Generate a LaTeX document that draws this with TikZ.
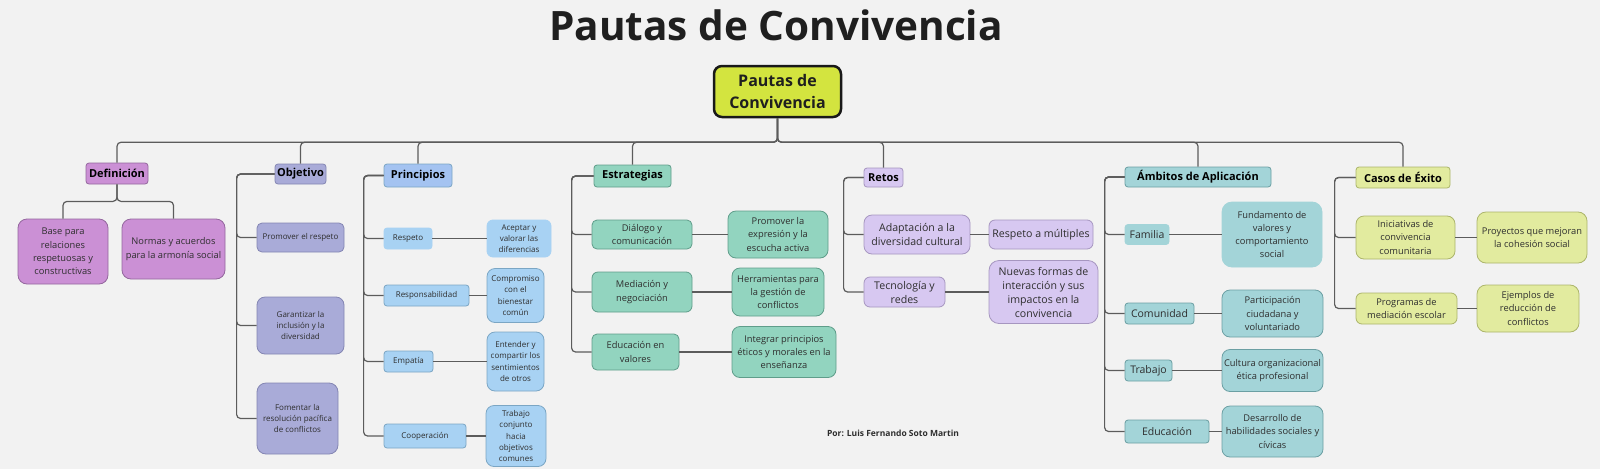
\documentclass[tikz,border=0pt]{standalone}
\usepackage{fontspec}
\setmainfont{Open Sans}
\newcommand\fsz[2]{\fontsize{#1}{#2}\selectfont}
\definecolor{bgc}{HTML}{F2F2F2}
\definecolor{linkc}{HTML}{5C5C5C}
\definecolor{ink}{HTML}{2E2E2E}
\definecolor{rootF}{HTML}{D3E43F}
\definecolor{defF}{HTML}{CB90D5}\definecolor{defD}{HTML}{94679E}
\definecolor{objF}{HTML}{A9ABD8}\definecolor{objD}{HTML}{8486B3}
\definecolor{prinH}{HTML}{A4C3F1}\definecolor{prinF}{HTML}{A8D2F3}\definecolor{prinD}{HTML}{7BA6C4}
\definecolor{estF}{HTML}{92D4BF}\definecolor{estD}{HTML}{5F9D8A}
\definecolor{retF}{HTML}{D7C8F1}\definecolor{retD}{HTML}{A696C0}
\definecolor{ambF}{HTML}{A3D4D8}\definecolor{ambD}{HTML}{6B9FA3}
\definecolor{casF}{HTML}{E2EB9F}\definecolor{casD}{HTML}{ACB56B}
\tikzset{
  box/.style={rounded corners=6pt,draw,line width=0.8pt,align=center,inner sep=0pt,
    text=ink,font=\fsz{9.3}{13.3}},
  small/.style={box,font=\fsz{8}{11.3}},
  big/.style={box,font=\fsz{10.6}{14}},
  head/.style={box,rounded corners=3pt,text=black,font=\bfseries\fsz{11}{13}},
  link/.style={draw=linkc,line width=1.2pt,rounded corners=4pt},
}
\begin{document}
\begin{tikzpicture}[x=1pt,y=-1pt]
        %% Canvas
        \fill[bgc] (0,0) rectangle (1600,469);
        \useasboundingbox (0,0) rectangle (1600,469);
        \node[font=\bfseries\fsz{40.5}{44},text=black!88] (title) at (776,25) {Pautas de Convivencia};
        \node[font=\bfseries\fsz{8.5}{10},text=ink] (author) at (893,433) {Por: Luis Fernando Soto Martin};
        %% Root
        \node[box,rounded corners=8pt,line width=2.5pt,draw=black!90,fill=rootF,text=black!88,
            minimum width=127,minimum height=51,font=\bfseries\fsz{16}{21.5}] (root) at (777.5,91.5)
            {Pautas de\\Convivencia};
        %% Categories
        \node[head,fill=defF,draw=defD,minimum width=62,minimum height=21] (def) at (117,173.5) {Definición};
        \node[head,fill=objF,draw=objD,minimum width=51,minimum height=20] (obj) at (300.5,174) {Objetivo};
        \node[head,fill=prinH,draw=prinD,minimum width=68,minimum height=23] (prin) at (418,175.5) {Principios};
        \node[head,fill=estF,draw=estD,minimum width=77,minimum height=22] (estr) at (632.5,176) {Estrategias};
        \node[head,fill=retF,draw=retD,minimum width=39,minimum height=19] (ret) at (883.5,177.5) {Retos};
        \node[head,fill=ambF,draw=ambD,minimum width=146,minimum height=20] (amb) at (1198,177) {Ámbitos de Aplicación};
        \node[head,fill=casF,draw=casD,minimum width=94,minimum height=21] (cas) at (1403,177.5) {Casos de Éxito};
        \foreach \c in {def,obj,prin,estr,ret,amb,cas}
            \draw[link] (root.south) -- ++(0,24) -| (\c.north);
        %% Definicion
        \node[box,rounded corners=9pt,fill=defF,draw=defD,minimum width=90,minimum height=65] (base) at (63,251.5)
            {Base para\\relaciones\\respetuosas y\\constructivas};
        \node[box,rounded corners=9pt,fill=defF,draw=defD,minimum width=103,minimum height=60] (norm) at (173.5,249)
            {Normas y acuerdos\\para la armonía social};
        \foreach \c in {base,norm}
            \draw[link] (def.south) -- ++(0,17) -| (\c.north);
        %% Objetivo
        \node[small,rounded corners=5pt,fill=objF,draw=objD,minimum width=87,minimum height=29] (prom) at (300.5,237.5)
            {Promover el respeto};
        \node[small,rounded corners=8pt,fill=objF,draw=objD,minimum width=87,minimum height=57] (gar) at (300.5,325.5)
            {Garantizar la\\inclusión y la\\diversidad};
        \node[small,rounded corners=9pt,fill=objF,draw=objD,minimum width=81,minimum height=71] (fom) at (297.5,418.5)
            {Fomentar la\\resolución pacífica\\de conflictos};
        \foreach \c in {prom,gar,fom}
            \draw[link] (obj.west) -| ([xshift=-20pt]\c.west) -- (\c.west);
        %% Principios
        \node[small,rounded corners=3pt,fill=prinF,draw=prinF,minimum width=48,minimum height=21] (resp) at (408,238.5) {Respeto};
        \node[small,rounded corners=3pt,fill=prinF,draw=prinD,minimum width=85,minimum height=21] (resb) at (426.5,295.5) {Responsabilidad};
        \node[small,rounded corners=3pt,fill=prinF,draw=prinD,minimum width=49,minimum height=21] (empa) at (408.5,361.5) {Empatía};
        \node[small,rounded corners=3pt,fill=prinF,draw=prinD,minimum width=82,minimum height=24] (coop) at (425,436) {Cooperación};
        \node[small,fill=prinF,draw=prinF,minimum width=64,minimum height=37] (acep) at (519,238.5)
            {Aceptar y\\valorar las\\diferencias};
        \node[small,rounded corners=8pt,fill=prinF,draw=prinD,minimum width=57,minimum height=54] (comp) at (515.5,295.5)
            {Compromiso\\con el\\bienestar\\común};
        \node[small,rounded corners=8pt,fill=prinF,draw=prinD,minimum width=57,minimum height=59] (ente) at (515.5,361.5)
            {Entender y\\compartir los\\sentimientos\\de otros};
        \node[small,rounded corners=8pt,fill=prinF,draw=prinD,minimum width=60,minimum height=61] (trab) at (516,436)
            {Trabajo\\conjunto\\hacia\\objetivos\\comunes};
        \foreach \c/\d in {resp/acep,resb/comp,empa/ente,coop/trab} {
            \draw[link] (prin.west) -| ([xshift=-20pt]\c.west) -- (\c.west);
            \draw[link] (\c.east) -- (\d.west);
        }
        %% Estrategias
        \node[box,rounded corners=5pt,fill=estF,draw=estD,minimum width=100,minimum height=29] (dial) at (642,234.5)
            {Diálogo y\\comunicación};
        \node[box,rounded corners=6pt,fill=estF,draw=estD,minimum width=100,minimum height=40] (medi) at (642,292)
            {Mediación y\\negociación};
        \node[box,rounded corners=5pt,fill=estF,draw=estD,minimum width=87,minimum height=36] (educ) at (635.5,352)
            {Educación en\\valores};
        \node[box,rounded corners=8pt,fill=estF,draw=estD,minimum width=100,minimum height=47] (expr) at (778,234.5)
            {Promover la\\expresión y la\\escucha activa};
        \node[box,rounded corners=8pt,fill=estF,draw=estD,minimum width=92,minimum height=48] (herr) at (778,292)
            {Herramientas para\\la gestión de\\conflictos};
        \node[box,rounded corners=8pt,fill=estF,draw=estD,minimum width=104,minimum height=51] (inte) at (784,352)
            {Integrar principios\\éticos y morales en la\\enseñanza};
        \foreach \c/\d in {dial/expr,medi/herr,educ/inte} {
            \draw[link] (estr.west) -| ([xshift=-20pt]\c.west) -- (\c.west);
            \draw[link] (\c.east) -- (\d.west);
        }
        %% Retos
        \node[big,rounded corners=8pt,fill=retF,draw=retD,minimum width=106,minimum height=39] (adap) at (917,234.5)
            {Adaptación a la\\diversidad cultural};
        \node[big,rounded corners=6pt,fill=retF,draw=retD,minimum width=81,minimum height=30] (tecn) at (904.5,292)
            {Tecnología y\\redes};
        \node[big,rounded corners=6pt,fill=retF,draw=retD,minimum width=104,minimum height=29] (mult) at (1041,234.5)
            {Respeto a múltiples};
        \node[big,rounded corners=10pt,fill=retF,draw=retD,minimum width=109,minimum height=63] (nuev) at (1043.5,292)
            {Nuevas formas de\\interacción y sus\\impactos en la\\convivencia};
        \foreach \c/\d in {adap/mult,tecn/nuev} {
            \draw[link] (ret.west) -| ([xshift=-20pt]\c.west) -- (\c.west);
            \draw[link] (\c.east) -- (\d.west);
        }
        %% Ambitos de Aplicacion
        \node[box,rounded corners=3pt,font=\fsz{10.5}{13},fill=ambF,draw=ambF,minimum width=44,minimum height=20] (fami) at (1147,234.5) {Familia};
        \node[box,rounded corners=3pt,font=\fsz{10.5}{13},fill=ambF,draw=ambD,minimum width=69,minimum height=21] (comu) at (1159.5,313.5) {Comunidad};
        \node[box,rounded corners=3pt,font=\fsz{10.5}{13},fill=ambF,draw=ambD,minimum width=47,minimum height=21] (trbj) at (1148.5,370.5) {Trabajo};
        \node[box,rounded corners=3pt,font=\fsz{10.5}{13},fill=ambF,draw=ambD,minimum width=84,minimum height=23] (edca) at (1167,431.5) {Educación};
        \node[box,rounded corners=10pt,fill=ambF,draw=ambF,minimum width=100,minimum height=65] (fund) at (1272,234.5)
            {Fundamento de\\valores y\\comportamiento\\social};
        \node[box,rounded corners=8pt,fill=ambF,draw=ambD,minimum width=101,minimum height=47] (part) at (1272.5,313.5)
            {Participación\\ciudadana y\\voluntariado};
        \node[box,rounded corners=8pt,fill=ambF,draw=ambD,minimum width=101,minimum height=42] (cult) at (1272.5,370.5)
            {Cultura organizacional\\ética profesional};
        \node[box,rounded corners=8pt,fill=ambF,draw=ambD,minimum width=101,minimum height=51] (desa) at (1272.5,431.5)
            {Desarrollo de\\habilidades sociales y\\cívicas};
        \foreach \c/\d in {fami/fund,comu/part,trbj/cult,edca/desa} {
            \draw[link] (amb.west) -| ([xshift=-20pt]\c.west) -- (\c.west);
            \draw[link] (\c.east) -- (\d.west);
        }
        %% Casos de Exito
        \node[box,rounded corners=8pt,fill=casF,draw=casD,minimum width=99,minimum height=43] (inic) at (1405.5,237.5)
            {Iniciativas de\\convivencia\\comunitaria};
        \node[box,rounded corners=6pt,fill=casF,draw=casD,minimum width=101,minimum height=31] (prog) at (1406.5,308.5)
            {Programas de\\mediación escolar};
        \node[box,rounded corners=9pt,fill=casF,draw=casD,minimum width=110,minimum height=51] (proy) at (1532,237.5)
            {Proyectos que mejoran\\la cohesión social};
        \node[box,rounded corners=9pt,fill=casF,draw=casD,minimum width=102,minimum height=47] (ejem) at (1528,308.5)
            {Ejemplos de\\reducción de\\conflictos};
        \foreach \c/\d in {inic/proy,prog/ejem} {
            \draw[link] (cas.west) -| ([xshift=-21pt]\c.west) -- (\c.west);
            \draw[link] (\c.east) -- (\d.west);
        }
\end{tikzpicture}
\end{document}
